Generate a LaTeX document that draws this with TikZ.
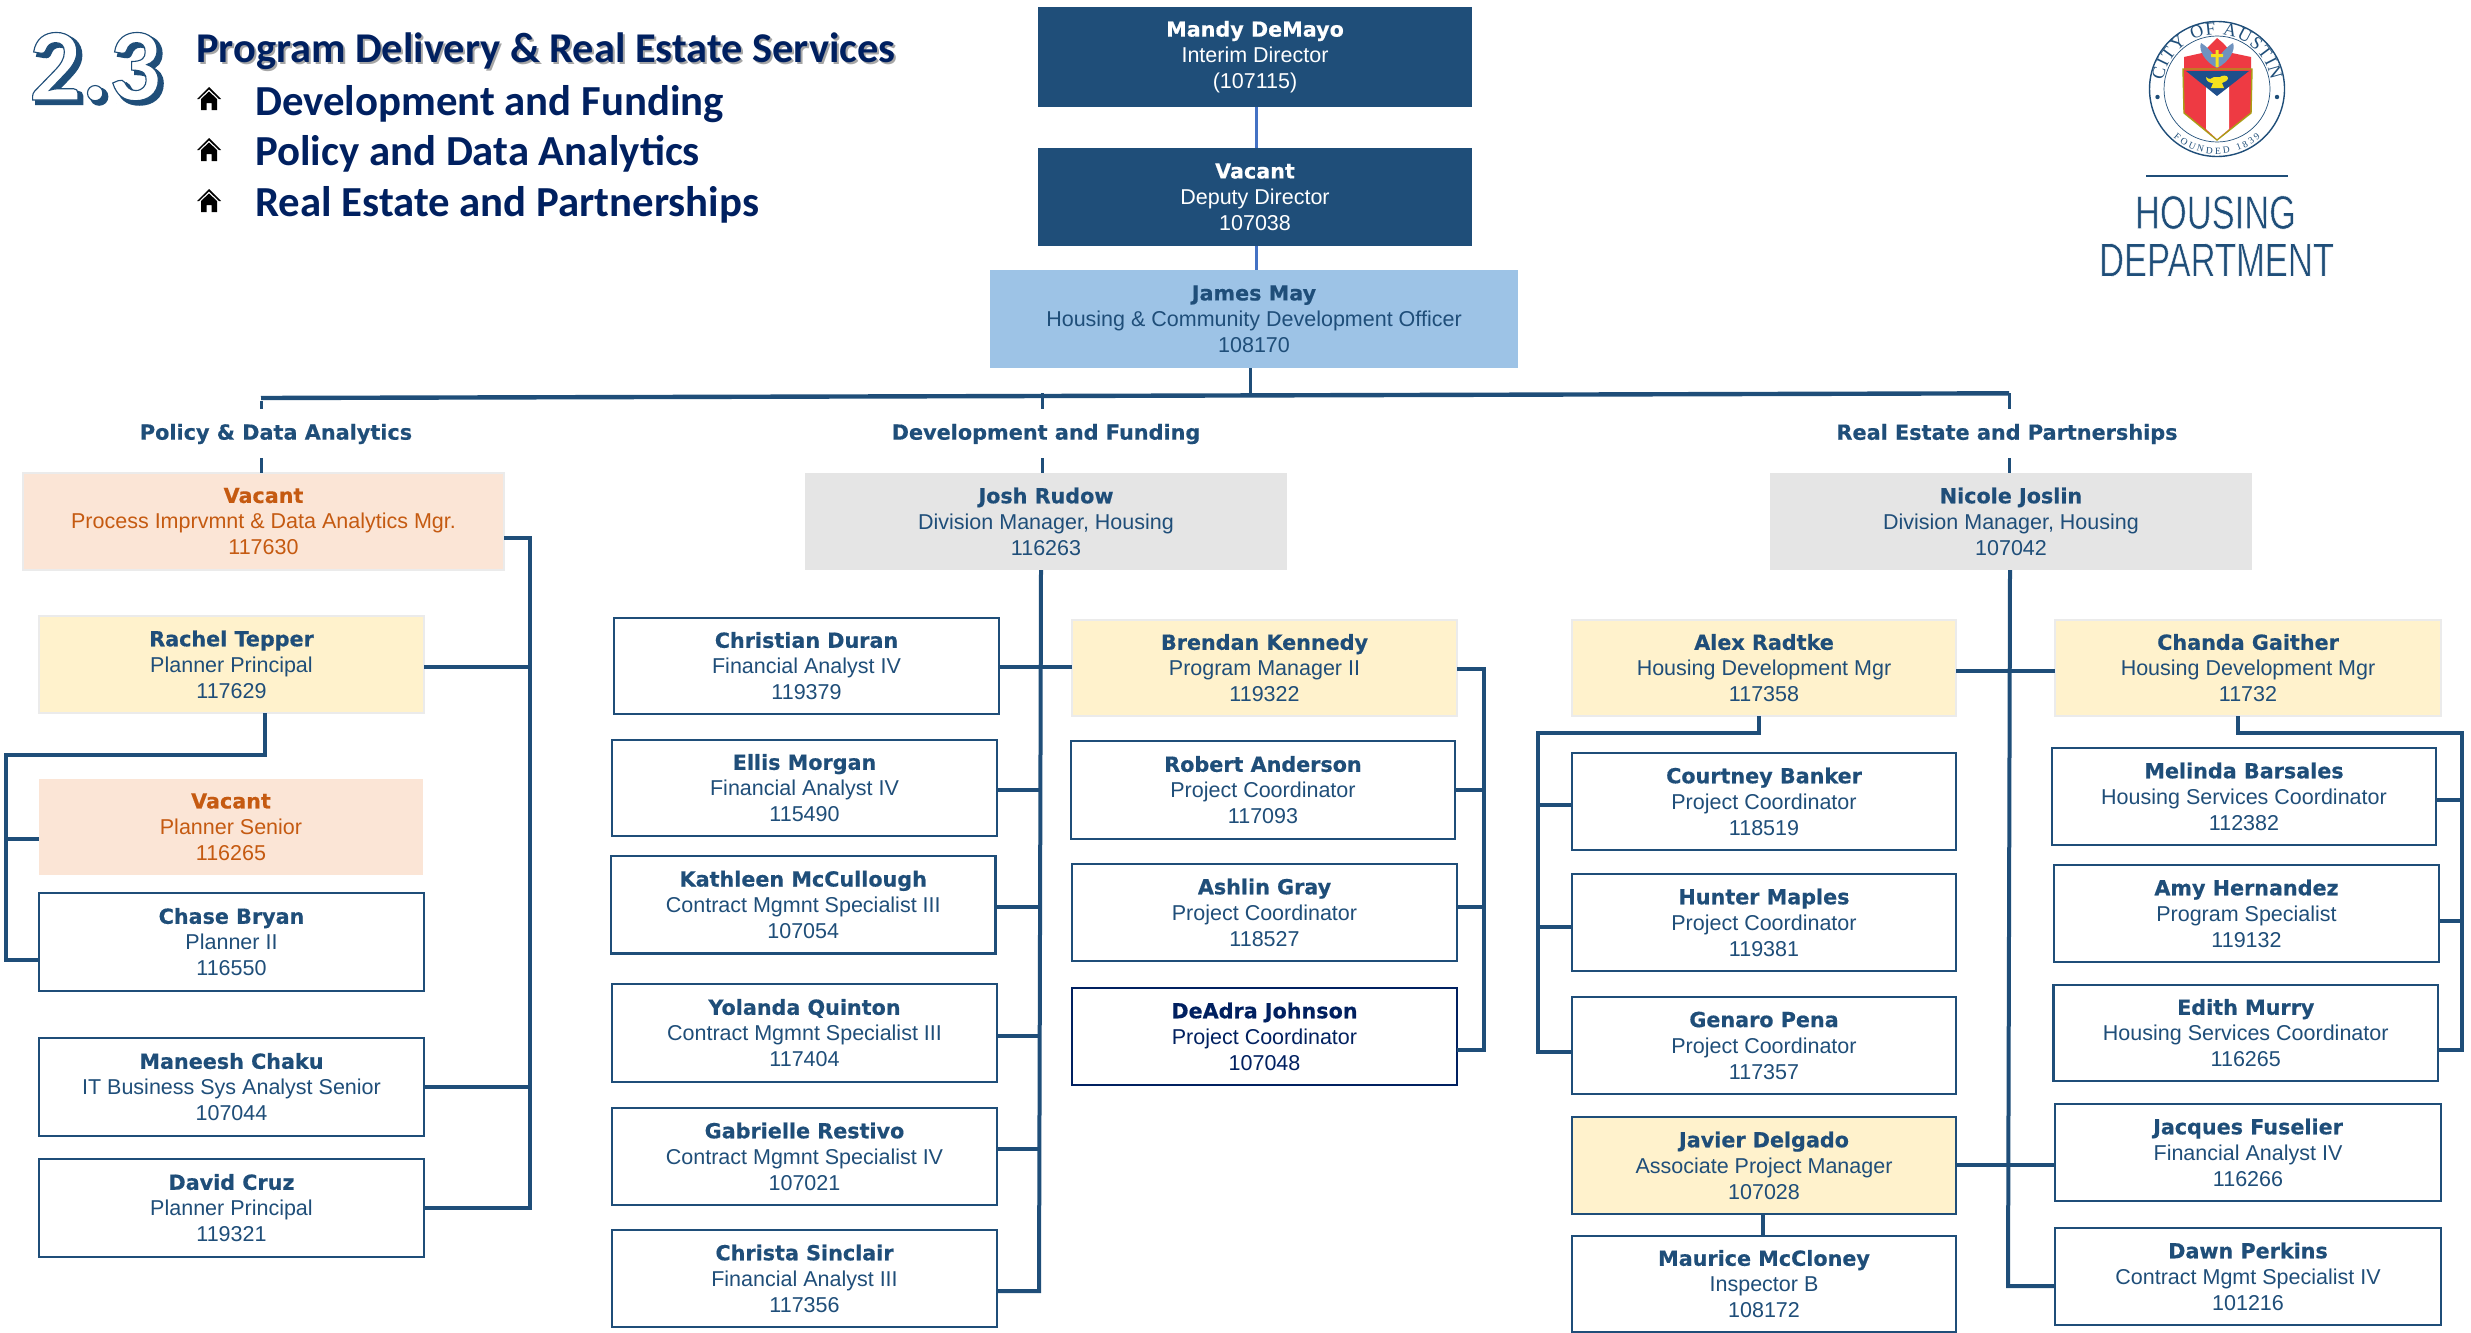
\documentclass[tikz,border=0pt]{standalone}
\usepackage{fontspec}
\usetikzlibrary{decorations.text}
\setmainfont{Liberation Sans}
\newfontfamily\namefam[BoldFeatures={FakeBold=0.5}]{DejaVu Sans}
\newfontfamily\headfam{Carlito}
\newfontfamily\outlinefam[BoldFeatures={FakeBold=1.1}]{Carlito}
\newfontfamily\shadowfam[BoldFeatures={FakeBold=3}]{Carlito}
\newfontfamily\sealfam{Liberation Serif}
\newfontfamily\thinfam[FakeBold=1.2]{Liberation Sans}
\definecolor{navy}{HTML}{1F4E79}
\definecolor{deep}{HTML}{002060}
\definecolor{skyb}{HTML}{9DC3E6}
\definecolor{grayb}{HTML}{E5E5E5}
\definecolor{peach}{HTML}{FBE5D6}
\definecolor{cream}{HTML}{FFF2CC}
\definecolor{rust}{HTML}{C55A11}
\definecolor{thinb}{HTML}{4472C4}
\definecolor{sealred}{HTML}{EE3A43}
\definecolor{sealblue}{HTML}{1E4F8C}
\definecolor{sealwing}{HTML}{6F93BF}
\definecolor{sealyel}{HTML}{F5E11E}
\tikzset{
  org/.style={inner sep=0pt,outer sep=0pt,align=center,font=\fontsize{21.5}{26}\selectfont,text=navy},
  plain/.style={org,draw=navy,line width=2.2pt,fill=white},
  plaindeep/.style={org,draw=deep,line width=2.2pt,fill=white,text=deep},
  top/.style={org,fill=navy,text=white},
  chief/.style={org,fill=skyb},
  division/.style={org,fill=grayb},
  lead/.style={org,fill=cream,draw=black!8,line width=1.5pt},
  leadblue/.style={org,fill=cream,draw=navy,line width=2.2pt},
  vacancy/.style={org,fill=peach,text=rust},
  vacancyedge/.style={org,fill=peach,text=rust,draw=black!8,line width=1.5pt},
  conn/.style={draw=navy,line width=4pt},
  bar/.style={draw=navy,line width=4.4pt},
  tick/.style={draw=navy,line width=3pt},
  thinconn/.style={draw=thinb,line width=3pt},
  branch/.style={inner sep=0pt,font=\namefam\bfseries\fontsize{20.8}{24}\selectfont,text=navy},
  listline/.style={inner sep=0pt,anchor=base west,text=deep,font=\headfam\bfseries\fontsize{42.8}{50}\selectfont},
}
\newcommand{\orgbox}[9]{%
  \node[#2,minimum width={#5-#3},minimum height={#6-#4}] (#1) at ({(#3+#5)/2},{(#4+#6)/2})
    {{\namefam\bfseries\fontsize{20.7}{26}\selectfont #7}\\#8\\#9};}
\newcommand{\homeicon}[2]{%
  \begin{scope}[shift={(#1,#2)}]
    \fill[black] (-12,12) -- (0,0) -- (12,12) -- (10,12) -- (0,2.5) -- (-10,12) -- cycle;
    \fill[black] (0,4.5) -- (8,12) -- (8,23) -- (2.5,23) -- (2.5,16) -- (-2.5,16) -- (-2.5,23) -- (-8,23) -- (-8,12) -- cycle;
  \end{scope}}
\begin{document}
\begin{tikzpicture}[x=1pt,y=-1pt]
\useasboundingbox (0,0) rectangle (2471,1333);
% header
\node[inner sep=0pt,anchor=base west,text=navy,font=\shadowfam\bfseries\fontsize{103}{103}\selectfont] (numshadow) at (33,103.5) {2.3};
\node[inner sep=0pt,anchor=base west,font=\outlinefam\bfseries\fontsize{103}{103}\selectfont] (num) at (29,100) {\special{pdf:bcolor [1 1 1] [0.122 0.306 0.475]}2.3\special{pdf:ecolor}};
\node[inner sep=0pt,anchor=base west,text=black!35,font=\headfam\bfseries\fontsize{42.4}{46}\selectfont] (titleshadow) at (198,64.5) {Program Delivery \& Real Estate Services};
\node[inner sep=0pt,anchor=base west,text=deep,font=\headfam\bfseries\fontsize{42.4}{46}\selectfont] (title) at (196,62) {Program Delivery \& Real Estate Services};
\homeicon{209}{87}\node[listline] (l1) at (255,115) {Development and Funding};
\homeicon{209}{138}\node[listline] (l2) at (255,165) {Policy and Data Analytics};
\homeicon{209}{189}\node[listline] (l3) at (255,216) {Real Estate and Partnerships};
% seal
\coordinate (seal) at (2217,89);
\fill[white] (seal) circle[radius=68pt];
\draw[navy,line width=1.4pt] (seal) circle[radius=67.5pt];
\draw[navy,line width=.7pt] (seal) circle[radius=53pt];
\fill[navy] (2157.5,97) circle[radius=2.2pt] (2277,97) circle[radius=2.2pt];
\path[postaction={decorate,decoration={text along path,text align=fit to path,text={|\sealfam\fontsize{18}{18}\selectfont\color{navy}|CITY OF AUSTIN}}}]
  (seal) ++(171:54.5pt) arc[start angle=171,end angle=9,radius=54.5pt];
\path[postaction={decorate,decoration={text along path,text align=fit to path,text={|\sealfam\fontsize{9.5}{10}\selectfont\color{navy}|FOUNDED 1839}}}]
  (seal) ++(228:65pt) arc[start angle=228,end angle=312,radius=65pt];
\fill[sealred] (2184,70) -- (2184,57) -- (2202,53) -- (2212,43) -- (2217,38) -- (2223,43) -- (2232,53) -- (2251,57) -- (2251,70) -- cycle;
\fill[sealwing] (2217,68) .. controls (2205,62) and (2198,50) .. (2201,43) .. controls (2208,47) and (2214,55) .. (2217,60) .. controls (2220,55) and (2226,47) .. (2233,43) .. controls (2236,50) and (2229,62) .. (2217,68) -- cycle;
\fill[sealyel] (2215.5,50) rectangle (2218.5,67) (2211,54) rectangle (2223,57);
\filldraw[draw=sealyel!70!black,line width=1.4pt,fill=sealred] (2183,69) -- (2252,69) -- (2251,113) -- (2217,140) -- (2184,113) -- cycle;
\fill[white] (2206,85) rectangle (2229,129) (2229,129) -- (2217,139) -- (2206,129) -- cycle;
\fill[sealblue] (2186,71) -- (2249,71) -- (2217,96) -- cycle;
\fill[sealyel] (2206,77) .. controls (2209,80) and (2212,79) .. (2214,77) -- (2220,77) .. controls (2222,75) and (2228,75) .. (2228,78) .. controls (2228,81) and (2224,82) .. (2222,83) -- (2224,88) -- (2211,88) -- (2213,83) .. controls (2209,83) and (2206,81) .. (2206,77) -- cycle;
\draw[navy,line width=1.2pt] (2146,176) -- (2288,176);
\node[inner sep=0pt] (hous) at (2215.5,212.5) {\resizebox{161pt}{33pt}{\thinfam\fontsize{46}{46}\selectfont\special{pdf:bcolor [0.122 0.306 0.475] [1 1 1]}HOUSING\special{pdf:ecolor}}};
\node[inner sep=0pt] (dept) at (2216.5,260) {\resizebox{235pt}{33pt}{\thinfam\fontsize{46}{46}\selectfont\special{pdf:bcolor [0.122 0.306 0.475] [1 1 1]}DEPARTMENT\special{pdf:ecolor}}};
% top
\orgbox{dir}{top}{1038}{7}{1472}{107}{Mandy DeMayo}{Interim Director}{(107115)}
\orgbox{dep}{top}{1038}{148}{1472}{246}{Vacant}{Deputy Director}{107038}
\orgbox{jm}{chief}{990}{270}{1518}{368}{James May}{Housing \& Community Development Officer}{108170}
% branch labels
\node[branch] (lbp) at (276,434) {Policy \& Data Analytics};
\node[branch] (lbd) at (1046,434) {Development and Funding};
\node[branch] (lbr) at (2007,434) {Real Estate and Partnerships};
% policy
\orgbox{pv}{vacancyedge}{23}{473}{504}{570}{Vacant}{Process Imprvmnt \& Data Analytics Mgr.}{117630}
\orgbox{rt}{lead}{39}{616}{424}{713}{Rachel Tepper}{Planner Principal}{117629}
\orgbox{pvs}{vacancy}{39}{779}{423}{875}{Vacant}{Planner Senior}{116265}
\orgbox{cb}{plain}{39}{893}{424}{991}{Chase Bryan}{Planner II}{116550}
\orgbox{mc}{plain}{39}{1038}{424}{1136}{Maneesh Chaku}{IT Business Sys Analyst Senior}{107044}
\orgbox{dc}{plain}{39}{1159}{424}{1257}{David Cruz}{Planner Principal}{119321}
% development
\orgbox{jr}{division}{805}{473}{1287}{570}{Josh Rudow}{Division Manager, Housing}{116263}
\orgbox{cd}{plain}{614}{618}{999}{714}{Christian Duran}{Financial Analyst IV}{119379}
\orgbox{em}{plain}{612}{740}{997}{836}{Ellis Morgan}{Financial Analyst IV}{115490}
\orgbox{km}{plain}{611}{856}{995.5}{953.5}{Kathleen McCullough}{Contract Mgmnt Specialist III}{107054}
\orgbox{yq}{plain}{612}{984}{997}{1082}{Yolanda Quinton}{Contract Mgmnt Specialist III}{117404}
\orgbox{gr}{plain}{612}{1108}{997}{1205}{Gabrielle Restivo}{Contract Mgmnt Specialist IV}{107021}
\orgbox{cs}{plain}{612}{1230}{997}{1327}{Christa Sinclair}{Financial Analyst III}{117356}
\orgbox{bk}{lead}{1072}{620}{1457}{716}{Brendan Kennedy}{Program Manager II}{119322}
\orgbox{ra}{plain}{1071}{741}{1455}{839}{Robert Anderson}{Project Coordinator}{117093}
\orgbox{ag}{plain}{1072}{864}{1457}{961}{Ashlin Gray}{Project Coordinator}{118527}
\orgbox{dj}{plaindeep}{1072}{988}{1457}{1085}{DeAdra Johnson}{Project Coordinator}{107048}
% real estate
\orgbox{nj}{division}{1770}{473}{2252}{570}{Nicole Joslin}{Division Manager, Housing}{107042}
\orgbox{ar}{lead}{1572}{620}{1956}{716}{Alex Radtke}{Housing Development Mgr}{117358}
\orgbox{cbk}{plain}{1572}{753}{1956}{850}{Courtney Banker}{Project Coordinator}{118519}
\orgbox{hm}{plain}{1572}{874}{1956}{971}{Hunter Maples}{Project Coordinator}{119381}
\orgbox{gp}{plain}{1572}{997}{1956}{1094}{Genaro Pena}{Project Coordinator}{117357}
\orgbox{jd}{leadblue}{1572}{1117}{1956}{1214}{Javier Delgado}{Associate Project Manager}{107028}
\orgbox{mm}{plain}{1572}{1236}{1956}{1332}{Maurice McCloney}{Inspector B}{108172}
\orgbox{cg}{lead}{2055}{620}{2441}{716}{Chanda Gaither}{Housing Development Mgr}{11732}
\orgbox{mb}{plain}{2052}{748}{2436}{845}{Melinda Barsales}{Housing Services Coordinator}{112382}
\orgbox{ah}{plain}{2054}{865}{2439}{962}{Amy Hernandez}{Program Specialist}{119132}
\orgbox{emu}{plain}{2053.5}{985}{2438}{1081}{Edith Murry}{Housing Services Coordinator}{116265}
\orgbox{jf}{plain}{2055}{1104}{2441}{1201}{Jacques Fuselier}{Financial Analyst IV}{116266}
\orgbox{dp}{plain}{2055}{1228}{2441}{1325}{Dawn Perkins}{Contract Mgmt Specialist IV}{101216}
% trunks
\coordinate (tp) at (530,0);
\coordinate (tpl) at (5.5,0);
\coordinate (td) at (1040,0);
\coordinate (tdr) at (1484,0);
\coordinate (tr) at (2009,0);
\coordinate (trl) at (1538,0);
\coordinate (trr) at (2462,0);
\coordinate (barl) at (261,398);
\coordinate (barm) at (1042,396);
\coordinate (barr) at (2009,393.3);
\coordinate (barj) at (1250,395);
% top links
\draw[thinconn] (1256,0 |- dir.south) -- (1256,0 |- dep.north);
\draw[thinconn] (1256,0 |- dep.south) -- (1256,0 |- jm.north);
\draw[tick] (barj |- jm.south) -- (barj);
\draw[bar] (barl) -- (barm) -- (barr);
\draw[tick] (barl |- 0,401) -- (barl |- 0,409);
\draw[tick] (barm |- 0,393) -- (barm |- 0,409);
\draw[tick] (barr) -- (barr |- 0,409);
\draw[tick] (barl |- 0,458) -- (barl |- pv.north);
\draw[tick] (barm |- 0,458) -- (barm |- jr.north);
\draw[tick] (barr |- 0,458) -- (barr |- nj.north);
% policy links
\draw[conn,line join=miter] (pv.east |- 0,538) -- (tp |- 0,538) -- (tp |- 0,1208) -- (dc.east |- 0,1208);
\draw[conn] (rt.east |- 0,667) -- (tp |- 0,667);
\draw[conn] (mc.east |- 0,1087) -- (tp |- 0,1087);
\draw[conn,line join=miter] (265,0 |- rt.south) -- (265,755) -- (tpl |- 0,755) -- (tpl |- 0,960) -- (cb.west |- 0,960);
\draw[conn] (tpl |- 0,839) -- (pvs.west |- 0,839);
% development links
\draw[conn,line join=miter] (1041,0 |- jr.south) -- (1039,1291) -- (cs.east |- 0,1291);
\draw[conn] (cd.east |- 0,666.5) -- (bk.west |- 0,666.5);
\draw[conn] (em.east |- 0,790) -- (td |- 0,790);
\draw[conn] (km.east |- 0,907) -- (td |- 0,907);
\draw[conn] (yq.east |- 0,1036) -- (td |- 0,1036);
\draw[conn] (gr.east |- 0,1149) -- (td |- 0,1149);
\draw[conn,line join=miter] (bk.east |- 0,669) -- (tdr |- 0,669) -- (tdr |- 0,1050) -- (dj.east |- 0,1050);
\draw[conn] (ra.east |- 0,790) -- (tdr |- 0,790);
\draw[conn] (ag.east |- 0,907) -- (tdr |- 0,907);
% real estate links
\draw[conn,line join=miter] (2010,0 |- nj.south) -- (2008,1286) -- (dp.west |- 0,1286);
\draw[conn] (ar.east |- 0,671) -- (cg.west |- 0,671);
\draw[conn] (jd.east |- 0,1165) -- (jf.west |- 0,1165);
\draw[conn] (1762.5,0 |- jd.south) -- (1762.5,0 |- mm.north);
\draw[conn,line join=miter] (1759,0 |- ar.south) -- (1759,733) -- (trl |- 0,733) -- (trl |- 0,1052) -- (gp.west |- 0,1052);
\draw[conn] (trl |- 0,805) -- (cbk.west |- 0,805);
\draw[conn] (trl |- 0,927) -- (hm.west |- 0,927);
\draw[conn,line join=miter] (2238,0 |- cg.south) -- (2238,733) -- (trr |- 0,733) -- (trr |- 0,1050) -- (emu.east |- 0,1050);
\draw[conn] (mb.east |- 0,800) -- (trr |- 0,800);
\draw[conn] (ah.east |- 0,921) -- (trr |- 0,921);
\end{tikzpicture}
\end{document}
